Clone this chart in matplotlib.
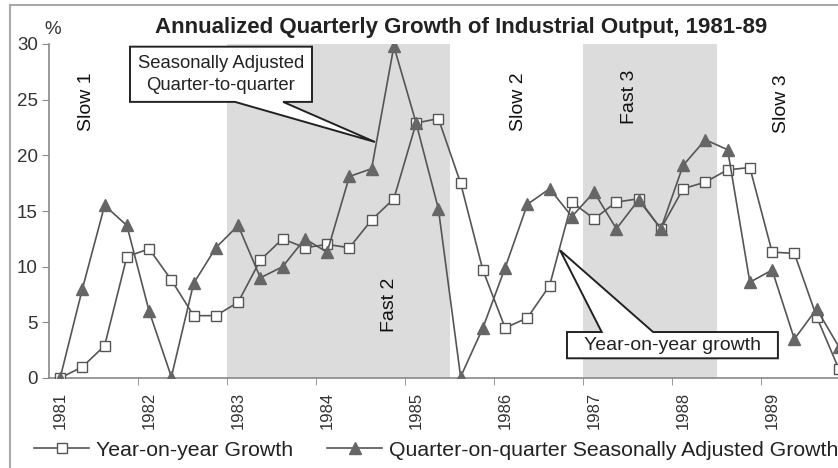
import matplotlib
matplotlib.use('Agg')
import matplotlib.pyplot as plt
from matplotlib.patches import Polygon, Rectangle

plt.rcParams['font.family'] = ['Liberation Sans', 'DejaVu Sans']

# quarterly data 1981Q1 .. 1989Q4 (annualized %)
years = ['1981', '1982', '1983', '1984', '1985', '1986', '1987', '1988', '1989']
yoy_growth = [0.0, 1.0, 2.9, 10.9, 11.6, 8.8, 5.6, 5.6,
              6.8, 10.6, 12.5, 11.7, 12.0, 11.7, 14.2, 16.1,
              22.9, 23.3, 17.5, 9.7, 4.5, 5.4, 8.3, 15.8,
              14.3, 15.8, 16.1, 13.4, 17.0, 17.6, 18.7, 18.9,
              11.3, 11.2, 5.5, 0.8]
qoq_growth = [0.0, 8.0, 15.5, 13.7, 6.0, 0.1, 8.5, 11.7,
              13.7, 9.0, 10.0, 12.5, 11.3, 18.1, 18.8, 29.8,
              22.9, 15.2, 0.1, 4.5, 9.9, 15.6, 17.0, 14.5,
              16.7, 13.4, 16.0, 13.4, 19.1, 21.4, 20.5, 8.6,
              9.7, 3.5, 6.2, 2.8]

# shaded fast-growth periods (quarter index boundaries)
fast_periods = [(7.5, 17.5), (23.5, 29.5)]
phase_labels = ['Slow 1', 'Fast 2', 'Slow 2', 'Fast 3', 'Slow 3']
phase_x = [1.2, 14.8, 20.6, 25.6, 32.4]
phase_y = [24.8, 6.6, 24.8, 25.3, 24.6]

W, H = 838, 468
fig = plt.figure(figsize=(W / 100, H / 100), dpi=100)
ax = fig.add_axes([49 / W, 1 - 378 / H, 801 / W, 334 / H])

line_col = '#555555'
x = list(range(len(yoy_growth)))

for a, b in fast_periods:
    ax.axvspan(a, b, color='#dcdcdc', lw=0, zorder=0)

ax.plot(x, yoy_growth, color=line_col, lw=1.2, marker='s', ms=6.5,
        mfc='white', mec=line_col, mew=1.0, label='Year-on-year Growth', zorder=3)
ax.plot(x, qoq_growth, color=line_col, lw=1.2, marker='^', ms=8,
        mfc='#666666', mec='#666666', label='Quarter-on-quarter Seasonally Adjusted Growth', zorder=3)

for lab, px, py in zip(phase_labels, phase_x, phase_y):
    ax.text(px, py, lab, rotation=90, ha='center', va='center', fontsize=14, color='#111111')


def callout(x0, x1, y0, y1, b0, b1, tip, text, fs):
    pts = [(x0, y1), (x1, y1), (x1, y0), (b1, y0), tip, (b0, y0), (x0, y0)] \
        if tip[1] < y0 else \
        [(x0, y0), (x1, y0), (x1, y1), (b1, y1), tip, (b0, y1), (x0, y1)]
    ax.add_patch(Polygon(pts, closed=True, fc='white', ec='#222222', lw=1.4, zorder=5))
    ax.text((x0 + x1) / 2, (y0 + y1) / 2, text, ha='center', va='center',
            fontsize=fs, color='#222222', linespacing=1.4, zorder=6)


callout(3.14, 11.32, 24.8, 29.76, 7.86, 10.02, (14.15, 21.2),
        'Seasonally Adjusted\nQuarter-to-quarter', 13.3)
callout(22.78, 32.26, 1.77, 4.13, 24.34, 26.65, (22.47, 11.47),
        'Year-on-year growth', 14)

ax.set_xlim(-0.5, 35.5)
ax.set_ylim(0, 30)
ax.set_yticks(range(0, 31, 5))
ax.set_xticks(range(0, 36, 4))
ax.set_xticklabels(years, rotation=90)
ax.set_xticks([i + 3.5 for i in range(0, 33, 4)], minor=True)
ax.tick_params(axis='x', which='major', length=0, pad=10, labelsize=12, labelcolor='#333333')
ax.tick_params(axis='x', which='minor', length=5, color='#888888')
ax.tick_params(axis='y', length=5, color='#888888', labelsize=13.5, labelcolor='#333333', pad=3)
for s in ['top', 'right']:
    ax.spines[s].set_visible(False)
for s in ['left', 'bottom']:
    ax.spines[s].set_color('#888888')
    ax.spines[s].set_linewidth(1.2)

fig.text(53 / W, 1 - 30 / H, '%', fontsize=13.5, ha='center', va='center', color='#333333')
fig.text(461 / W, 1 - 27 / H, 'Annualized Quarterly Growth of Industrial Output, 1981-89',
         fontsize=16, fontweight='bold', ha='center', va='center', color='#222222')

fig.legend(loc='center', bbox_to_anchor=(436 / W, 1 - 450 / H), ncol=2, frameon=False,
           fontsize=15.3, handlelength=2.6, columnspacing=1.6, handletextpad=0.3,
           labelcolor='#222222')

fig.patches.append(Rectangle((10 / W, -0.1), 1.2, 1.1 - 5 / H, transform=fig.transFigure,
                             fill=False, ec='#a8a8a8', lw=1.5))

fig.savefig('out.png', dpi=100)
